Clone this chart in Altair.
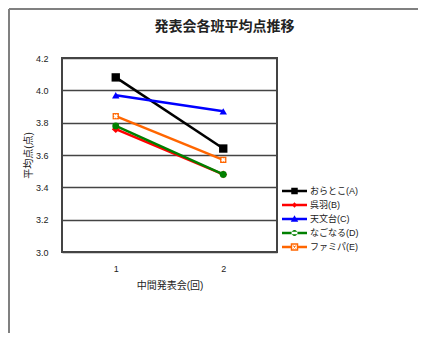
import altair as alt
import pandas as pd

# ---- data ----
sessions = ["1", "2"]
series = ["おらとこ(A)", "呉羽(B)", "天文台(C)", "なごなる(D)", "ファミパ(E)"]
vals_A = [4.08, 3.64]
vals_B = [3.76, 3.48]
vals_C = [3.97, 3.87]
vals_D = [3.78, 3.48]
vals_E = [3.84, 3.57]
y_ticks = [3.0, 3.2, 3.4, 3.6, 3.8, 4.0, 4.2]

all_vals = [vals_A, vals_B, vals_C, vals_D, vals_E]
rows = []
for s, vals in zip(series, all_vals):
    for sess, v in zip(sessions, vals):
        rows.append({"series": s, "session": sess, "value": v})
df = pd.DataFrame(rows)

# ---- styles ----
colors = ["#000000", "#ff0000", "#0000ff", "#008000", "#ff6600"]
shapes = ["square", "diamond", "triangle-up", "circle", "square"]
sizes = [70, 40, 80, 75, 150]
FONT = "Liberation Sans, Noto Sans CJK JP"
TXT = "#222222"

LINE_L = "M-1,-0.1H1V0.1H-1Z "
legend_paths = [
    LINE_L + "M-0.26,-0.26H0.26V0.26H-0.26Z",
    LINE_L + "M0,-0.22L0.22,0L0,0.22L-0.22,0Z",
    LINE_L + "M0,-0.3L0.3,0.22H-0.3Z",
    LINE_L + "M-0.24,0A0.24,0.24,0,1,0,0.24,0A0.24,0.24,0,1,0,-0.24,0Z",
    "M-1,-0.1H-0.3V0.1H-1Z M0.3,-0.1H1V0.1H0.3Z M-0.3,-0.3H0.3V0.3H-0.3Z "
    "M-0.18,-0.18V0.18H0.18V-0.18Z "
    "M-0.14,-0.1L-0.1,-0.14L0.14,0.1L0.1,0.14Z M0.1,-0.14L0.14,-0.1L-0.1,0.14L-0.14,0.1Z",
]

W, H = 215, 194
PAD = {"left": 54, "top": 50, "right": 141, "bottom": 81}

color_scale = alt.Scale(domain=series, range=colors)

x_enc = alt.X(
    "session:O",
    scale=alt.Scale(domain=sessions, type="point", padding=0.5),
    axis=alt.Axis(title="中間発表会(回)", labelAngle=0, domain=False, ticks=False,
                  labelPadding=12, titlePadding=7, labelFontSize=9, titleFontSize=10,
                  titleFontWeight="normal", labelFont=FONT, titleFont=FONT,
                  labelColor=TXT, titleColor=TXT),
)
y_enc = alt.Y(
    "value:Q",
    scale=alt.Scale(domain=[3.0, 4.2], nice=False, zero=False),
    axis=alt.Axis(title="平均点(点)", values=y_ticks, format=".1f", domain=False, ticks=False,
                  grid=True, gridColor="#444444", gridWidth=1.5, labelPadding=14,
                  titlePadding=2, labelFontSize=9, titleFontSize=10, titleFontWeight="normal",
                  labelFont=FONT, titleFont=FONT, labelColor=TXT, titleColor=TXT),
)

base = alt.Chart(df)

lines = base.mark_line(strokeWidth=2.5).encode(
    x=x_enc, y=y_enc,
    color=alt.Color("series:N", scale=color_scale, legend=None),
)

points = base.mark_point(filled=True, opacity=1).encode(
    x=x_enc, y=y_enc,
    color=alt.Color("series:N", scale=color_scale, legend=None),
    shape=alt.Shape("series:N", scale=alt.Scale(domain=series, range=shapes), legend=None),
    size=alt.Size("series:N", scale=alt.Scale(domain=series, range=sizes), legend=None),
)

e_mark = base.transform_filter(alt.datum.series == series[4]).mark_point(
    filled=True, opacity=1, shape="cross", color="white", size=20, angle=45
).encode(x=x_enc, y=y_enc)

leg_def = alt.Legend(orient="none", legendX=220, legendY=126, title=None,
                     symbolSize=625, clipHeight=14, labelFontSize=9, labelFont=FONT,
                     labelColor=TXT, symbolStrokeWidth=0, labelOffset=3, rowPadding=0)
legend_layer = base.transform_filter("false").mark_point(filled=True, opacity=1).encode(
    color=alt.Color("series:N", scale=color_scale, legend=leg_def),
    shape=alt.Shape("series:N", scale=alt.Scale(domain=series, range=legend_paths), legend=leg_def),
)

frame_df = pd.DataFrame({"a": [0]})
frame_top = alt.Chart(frame_df).mark_rule(color="#808080", strokeWidth=2).encode(
    x=alt.value(-53), x2=alt.value(360), y=alt.value(-49)
)
frame_left = alt.Chart(frame_df).mark_rule(color="#808080", strokeWidth=2).encode(
    x=alt.value(-53), y=alt.value(-49), y2=alt.value(280)
)

chart = alt.layer(
    frame_top, frame_left, lines, points, e_mark, legend_layer
).resolve_scale(
    color="independent", shape="independent"
).properties(
    width=W, height=H,
    autosize=alt.AutoSizeParams(type="none"),
    padding=PAD,
    title=alt.Title("発表会各班平均点推移", font=FONT, fontSize=14, fontWeight="bold",
                    color=TXT, anchor="middle", dx=55, offset=26, dy=52),
).configure_view(stroke="#444444", strokeWidth=2)

chart.save("out.html", embed_options={"renderer": "svg", "actions": False})
